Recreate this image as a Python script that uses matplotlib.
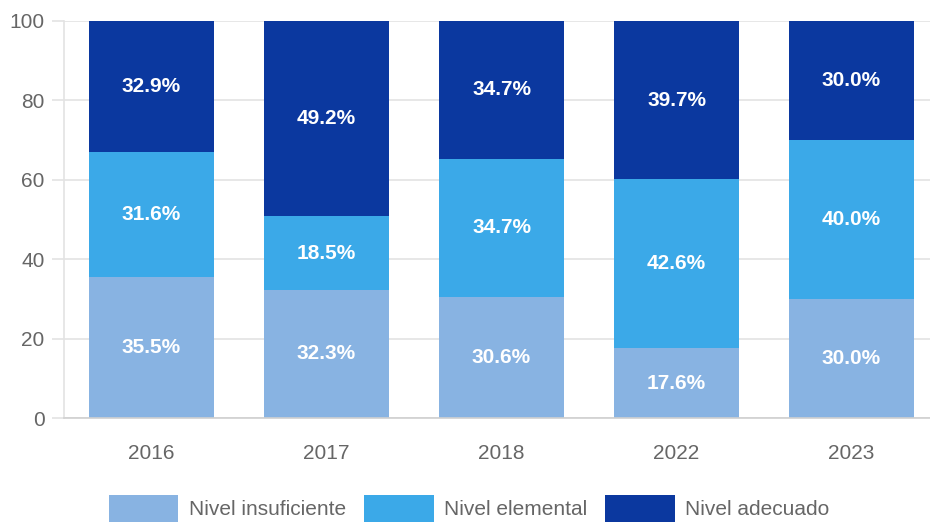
"""Stacked bar chart: nivel de logro por año."""

import matplotlib

matplotlib.use("Agg")
import matplotlib.pyplot as plt
import numpy as np

years = ["2016", "2017", "2018", "2022", "2023"]
insuficiente = [35.5, 32.3, 30.6, 17.6, 30.0]
elemental = [31.6, 18.5, 34.7, 42.6, 40.0]
adecuado = [32.9, 49.2, 34.7, 39.7, 30.0]

series_names = ["Nivel insuficiente", "Nivel elemental", "Nivel adecuado"]
colors = ["#88b3e2", "#3ba9e8", "#0b389f"]


def main() -> None:
    plt.rcParams["font.family"] = ["Liberation Sans", "DejaVu Sans"]

    fig = plt.figure(figsize=(9.3, 5.23), dpi=100)
    # axes left edge at x=64px, y=0 at 418px, y=100 at 21px; right side runs past the image
    ax = fig.add_axes([64 / 930, 105 / 523, 875 / 930, 397 / 523])

    x = np.arange(len(years))
    width = 125 / 175
    bottom = np.zeros(len(years))
    for name, vals, color in zip(series_names, [insuficiente, elemental, adecuado], colors):
        vals = np.array(vals)
        bars = ax.bar(x, vals, width, bottom=bottom, color=color, label=name, zorder=2)
        ax.bar_label(
            bars,
            labels=[f"{v:.1f}%" for v in vals],
            label_type="center",
            color="white",
            fontsize=15,
            fontweight="bold",
        )
        bottom += vals

    ax.set_xlim(-0.5, len(years) - 0.5)
    ax.set_ylim(0, 100)
    ax.set_yticks([0, 20, 40, 60, 80, 100])
    ax.set_xticks(x)
    ax.set_xticklabels(years)

    ax.grid(axis="y", color="#e3e3e3", linewidth=1.2, zorder=0)
    for side in ["top", "right"]:
        ax.spines[side].set_visible(False)
    ax.spines["left"].set_color("#e3e3e3")
    ax.spines["bottom"].set_color("#d0d0d0")
    ax.spines["left"].set_linewidth(1.2)
    ax.spines["bottom"].set_linewidth(1.2)

    ax.tick_params(axis="y", length=9, color="#e3e3e3", width=1.2, pad=5, labelsize=15, labelcolor="#666666")
    ax.tick_params(axis="x", length=0, pad=19, labelsize=15, labelcolor="#666666")

    fig.legend(
        loc="lower center",
        bbox_to_anchor=(469 / 930, 1 / 523),
        ncol=3,
        frameon=False,
        fontsize=15,
        labelcolor="#666666",
        handlelength=3.35,
        handleheight=1.6,
        handletextpad=0.5,
        columnspacing=0.85,
        borderaxespad=0.0,
        borderpad=0.0,
    )

    fig.savefig("out.png", dpi=100)
    plt.close(fig)


if __name__ == "__main__":
    main()
